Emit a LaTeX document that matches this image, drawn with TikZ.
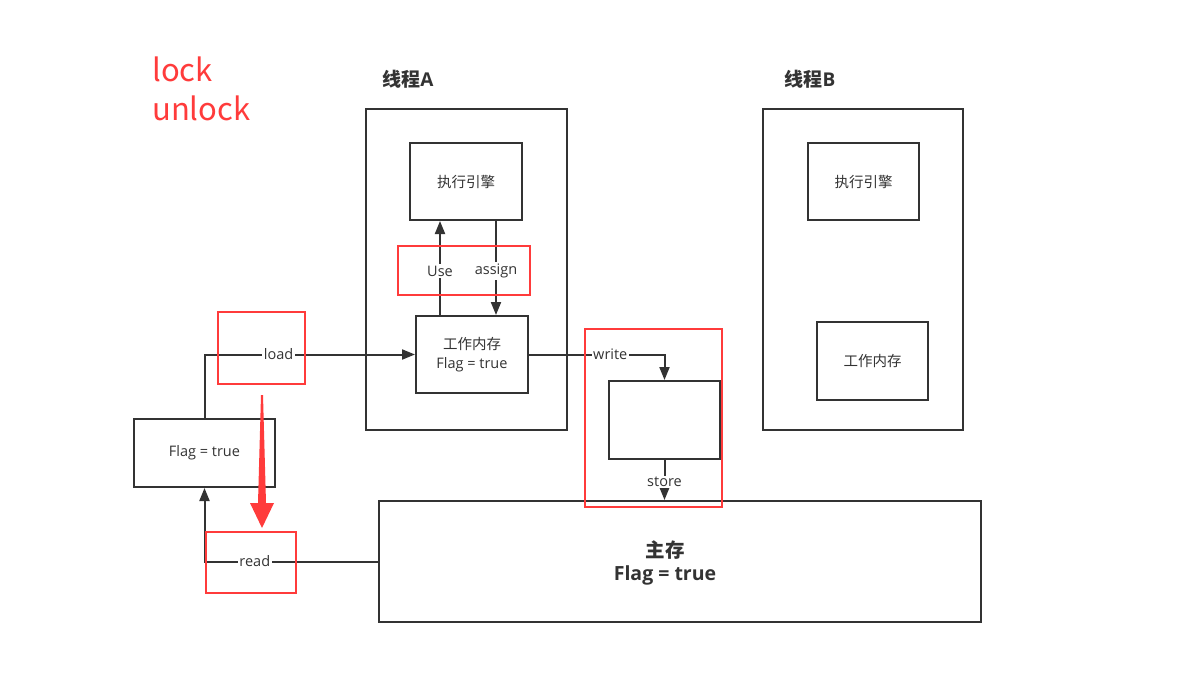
\documentclass[tikz,border=0pt]{standalone}
\usepackage{fontspec}
\setmainfont{Open Sans}
\newfontfamily\cjk{Noto Sans CJK SC}
\usetikzlibrary{arrows.meta}
\definecolor{ink}{HTML}{333333}
\definecolor{redmark}{HTML}{FF3B3B}
\begin{document}
\begin{tikzpicture}[x=1pt,y=-1pt,
  box/.style={draw=ink,line width=2pt,fill=white,text=ink,align=center,inner sep=0pt,font=\fontsize{14.5}{19}\selectfont},
  conn/.style={draw=ink,line width=2pt},
  arr/.style={conn,-{Triangle[length=13pt,width=10pt]}},
  lbl/.style={fill=white,text=ink,inner sep=1.5pt,font=\fontsize{14.5}{16}\selectfont},
  redbox/.style={draw=redmark,line width=2.8pt},
  title/.style={text=ink,font=\fontsize{19}{22}\selectfont\bfseries}]
\useasboundingbox (0,0) rectangle (1200,682);
\fill[white] (0,0) rectangle (1200,682);
% lock / unlock
\node[anchor=west,text=redmark,font=\cjk\fontsize{31}{36}\selectfont,inner sep=0pt] (lock) at (152,69) {lock};
\node[anchor=west,text=redmark,font=\cjk\fontsize{31}{36}\selectfont,inner sep=0pt] (unlock) at (152,108) {unlock};
% titles
\node[title] (ta) at (408,79) {{\cjk 线程}A};
\node[title] (tb) at (810,79) {{\cjk 线程}B};
% thread boxes
\node[box,minimum width=201pt,minimum height=321pt] (thA) at (466.5,269.5) {};
\node[box,minimum width=200pt,minimum height=321pt] (thB) at (863,269.5) {};
\node[box,minimum width=112pt,minimum height=77pt] (engA) at (466,181.5) {\cjk 执行引擎};
\node[box,minimum width=112pt,minimum height=77pt] (wmA) at (472,354.5) {{\cjk 工作内存}\\Flag = true};
\node[box,minimum width=111pt,minimum height=77pt] (engB) at (863.5,181.5) {\cjk 执行引擎};
\node[box,minimum width=111pt,minimum height=78pt] (wmB) at (872.5,361) {\cjk 工作内存};
\node[box,minimum width=141pt,minimum height=68pt] (flag) at (204.5,453) {Flag = true};
\node[box,minimum width=111pt,minimum height=78pt] (wbox) at (664.5,420) {};
\node[box,minimum width=602pt,minimum height=121pt] (main) at (680,561.5) {};
\node[text=ink,align=center,font=\fontsize{19.5}{23}\selectfont\bfseries] (mainlbl) at (665,563) {{\cjk 主存}\\Flag = true};
% connectors
\draw[arr] (flag.north) |- node[lbl,pos=0.676] {load} (wmA.west);
\draw[arr] (main.west) -| node[lbl,pos=0.355] {read} (flag.south);
\draw[arr] ([xshift=-32pt]wmA.north) -- node[lbl,yshift=-3pt] {Use} ([xshift=-32pt]wmA.north |- engA.south);
\draw[arr] ([xshift=30pt]engA.south) -- node[lbl,yshift=-3pt] {assign} ([xshift=30pt]engA.south |- wmA.north);
\draw[arr] (wmA.east) -| node[lbl,pos=0.3] {write} (wbox.north);
\draw[arr] (wbox.south) -- node[lbl,pos=0.55] {store} (wbox.south |- main.north);
% red annotations
\draw[redbox] (398,246) rectangle (530,295);
\draw[redbox] (218,312) rectangle (305,384);
\draw[redbox] (206,532) rectangle (296,593);
\draw[redbox] (585,329) rectangle (722,507);
\fill[redmark] (261,395) -- (263,395) -- (266,503) -- (274,503) -- (262,528) -- (250,503) -- (258,503) -- cycle;
\end{tikzpicture}
\end{document}
